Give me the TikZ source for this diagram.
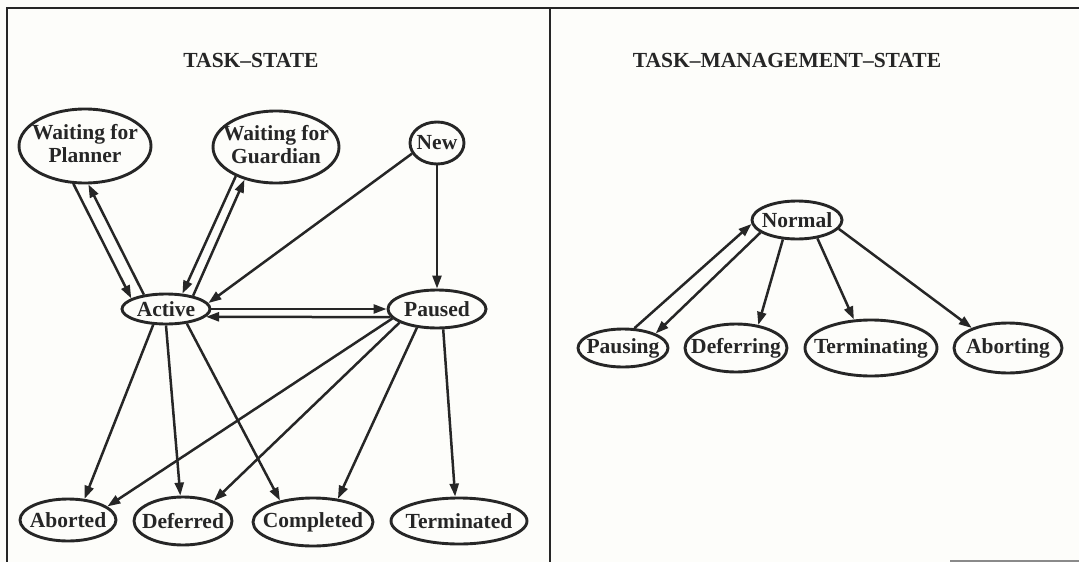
\documentclass[tikz,border=0pt]{standalone}
\usepackage{fontspec}
\setmainfont{Liberation Serif}
\usetikzlibrary{shapes.geometric,arrows.meta}
\definecolor{ink}{HTML}{262626}
\definecolor{paper}{HTML}{FDFDFA}
\definecolor{rulegray}{HTML}{8A8A8A}
% labels are given zero width so that the ellipse keeps its set size
\newcommand{\onel}[1]{\makebox[0pt]{#1}}
\newcommand{\twol}[2]{\makebox[0pt]{\begin{tabular}{@{}c@{}}#1\\#2\end{tabular}}}

\begin{document}
\begin{tikzpicture}[x=1pt,y=-1pt,
  state/.style={ellipse, draw=ink, line width=2.9pt, inner sep=0pt, text=ink,
                font=\fontsize{21.5}{23}\selectfont\bfseries},
  sz/.style 2 args={minimum width=#1pt, minimum height=#2pt},
  edge/.style={draw=ink, line width=2.5pt, -{Triangle[length=13pt,width=9pt]}},
  title/.style={text=ink, inner sep=0pt, font=\fontsize{21.5}{23}\selectfont\bfseries},
  frameline/.style={draw=ink, line width=2.4pt}]

\fill[paper] (0,0) rectangle (1079,562);
\useasboundingbox (0,0) rectangle (1079,562);

% frame and panel divider
\draw[frameline] (7,562) -- (7,8) -- (1079,8);
\draw[frameline] (550,8) -- (550,562);
\draw[draw=rulegray, line width=1.5pt] (950,561) -- (1079,561);

% ---------------- left panel: task states ----------------
\node[title] (t1) at (251,60) {TASK–STATE};

\node[state, sz={132}{74}] (wp)  at (85,146)  {\twol{Waiting for}{Planner}};
\node[state, sz={126}{72}] (wg)  at (276,147) {\twol{Waiting for}{Guardian}};
\node[state, sz={54}{42}]  (new) at (437,143) {\onel{New}};
\node[state, sz={88}{30}]  (act) at (166,309) {\onel{Active}};
\node[state, sz={98}{38}]  (pau) at (437,309) {\onel{Paused}};
\node[state, sz={96}{42}]  (abo) at (68,520)  {\onel{Aborted}};
\node[state, sz={98}{48}]  (def) at (183,521) {\onel{Deferred}};
\node[state, sz={120}{48}] (com) at (313,522) {\onel{Completed}};
\node[state, sz={136}{46}] (ter) at (459,521) {\onel{Terminated}};

\draw[edge] (wp.-107.5) -- (act.163);
\draw[edge] (act.147.5) -- (wp.-85.5);
\draw[edge] (wg.-144) -- (act.43);
\draw[edge] (act.26.6) -- (wg.-134);
\draw[edge] (new.-157) -- (act.8);
\draw[edge] (new.south) -- (pau.north);
\draw[edge] (act.0) -- (pau.180);
\draw[edge] (pau.190) -- (act.-11.6);
\draw[edge] (act.-129) -- (abo.52.4);
\draw[edge] (act.-90) -- (def.96);
\draw[edge] (act.-35.6) -- (com.147.5);
\draw[edge] (pau.192) -- (abo.19);
\draw[edge] (pau.200.6) -- (def.33.7);
\draw[edge] (pau.-137.8) -- (com.43.8);
\draw[edge] (pau.-73) -- (ter.99.5);

% ---------------- right panel: task management states ----------------
\node[title] (t2) at (787,60) {TASK–MANAGEMENT–STATE};

\node[state, sz={90}{38}]  (nor) at (797,220)  {\onel{Normal}};
\node[state, sz={90}{38}]  (pas) at (623,348)  {\onel{Pausing}};
\node[state, sz={102}{48}] (dfr) at (736,348)  {\onel{Deferring}};
\node[state, sz={132}{56}] (trm) at (871,348)  {\onel{Terminating}};
\node[state, sz={108}{50}] (abt) at (1008,348) {\onel{Aborting}};

\draw[edge] (pas.60.4) -- (nor.185);
\draw[edge] (nor.199) -- (pas.24.2);
\draw[edge] (nor.-126.4) -- (dfr.46.7);
\draw[edge] (nor.-42.3) -- (trm.121.3);
\draw[edge] (nor.-12) -- (abt.151.3);
\end{tikzpicture}
\end{document}
